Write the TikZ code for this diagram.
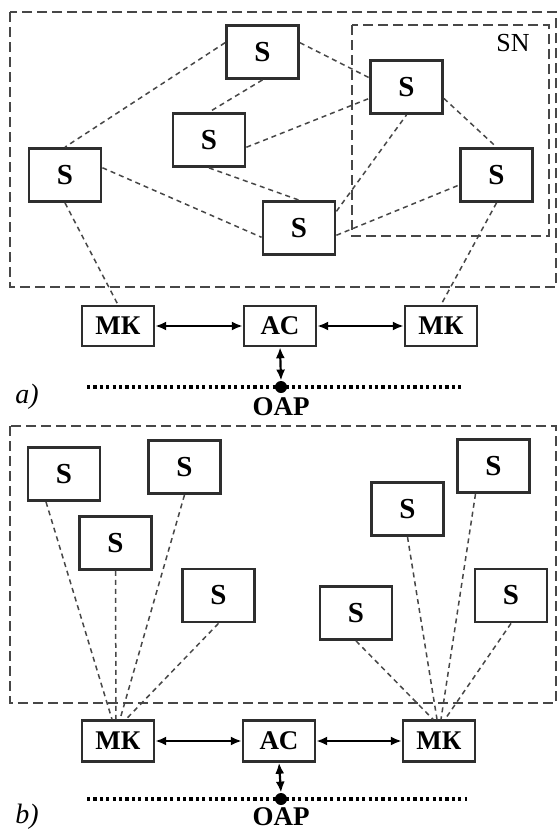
\documentclass[tikz,border=0pt]{standalone}
\usepackage{fontspec}
\setmainfont{Liberation Serif}
\usetikzlibrary{positioning,calc,arrows,arrows.meta}
\definecolor{darkgray2}{rgb}{0.18,0.18,0.18}
\definecolor{midgray}{rgb}{0.28,0.28,0.28}

\begin{document}
\begin{tikzpicture}
[x=0.5pt,y=-0.5pt,
 sensor/.style={rectangle,draw=darkgray2,line width=1.4pt,minimum width=36pt,minimum height=26.5pt,inner sep=0pt,font=\fontsize{14.5}{14.5}\selectfont\bfseries},
 unit/.style={rectangle,draw=darkgray2,line width=1.2pt,minimum width=36pt,minimum height=20pt,inner sep=0pt,font=\fontsize{13.5}{13.5}\selectfont\bfseries},
 link/.style={draw=midgray,line width=0.75pt,dash pattern=on 2.5pt off 2pt},
 frame/.style={draw=midgray,line width=0.8pt,dash pattern=on 5pt off 2.5pt},
 bus/.style={draw=black,line width=1.7pt,dash pattern=on 1.6pt off 1.6pt},
 duplex/.style={draw=black,line width=1.1pt,{Latex[length=5.5pt,width=4.5pt]}-{Latex[length=5.5pt,width=4.5pt]}},
 point/.style={circle,fill=black,inner sep=0pt,minimum size=6pt},
 caption/.style={font=\fontsize{13.5}{13.5}\selectfont\bfseries}]

\useasboundingbox (0,0) rectangle (559,830);

% a) mesh network
\draw[frame] (10,12) rectangle (556,287);
\draw[frame] (352,25) rectangle (549,236);
\node[font=\fontsize{13}{13}\selectfont] (sn) at (513,43) {SN};

\node[sensor] (sTop) at (262.5,52) {S};
\node[sensor] (sLeft) at (65,175) {S};
\node[sensor] (sMid) at (209,140) {S};
\node[sensor] (sBot) at (299,228) {S};
\node[sensor] (sUp) at (406.5,87) {S};
\node[sensor] (sRight) at (496.5,175) {S};

\draw[link] (sTop.166) -- (sLeft.north);
\draw[link] (sTop.south) -- (sMid.north);
\draw[link] (sTop.14) -- (sUp.166);
\draw[link] (sMid.-11) -- (sUp.197);
\draw[link] (sMid.south) -- (sBot.north);
\draw[link] (sLeft.11) -- (sBot.194);
\draw[link] (sBot.24) -- (sUp.south);
\draw[link] (sBot.-11) -- (sRight.195);
\draw[link] (sUp.-17) -- (sRight.north);

\node[unit] (mkA1) at (118,326) {МК};
\node[unit] (acA) at (280,326) {AC};
\node[unit] (mkA2) at (441,326) {МК};
\draw[link] (sLeft.south) -- (mkA1.north);
\draw[link] (sRight.south) -- (mkA2.north);
\draw[duplex] (mkA1.east) -- (acA.west);
\draw[duplex] (acA.east) -- (mkA2.west);

\coordinate (busA1) at (87,387);
\coordinate (busA2) at (463,387);
\draw[bus] (busA1) -- (busA2);
\node[point] (dotA) at (281,387) {};
\draw[duplex] (acA.south) -- (dotA.north);
\node[caption] (oapA) at (281,407) {OAP};
\node[font=\fontsize{14}{14}\selectfont\itshape] (capA) at (27,397) {a)};

% b) star networks
\draw[frame] (10,426) rectangle (556,703);

\node[sensor] (s1) at (64,474) {S};
\node[sensor] (s2) at (184.5,467) {S};
\node[sensor] (s3) at (115.5,543) {S};
\node[sensor] (s4) at (218.5,595.5) {S};
\node[sensor] (s5) at (356,613) {S};
\node[sensor] (s6) at (407.5,509) {S};
\node[sensor] (s7) at (493.5,466) {S};
\node[sensor] (s8) at (511,595.5) {S};

\node[unit,minimum height=20.5pt] (mkB1) at (118,741) {МК};
\node[unit,minimum height=20.5pt] (acB) at (279,741) {AC};
\node[unit,minimum height=20.5pt] (mkB2) at (439,741) {МК};

\draw[link] ([xshift=-9pt]s1.south) -- ([xshift=-3pt]mkB1.north);
\draw[link] (s3.south) -- ([xshift=-1pt]mkB1.north);
\draw[link] (s2.south) -- ([xshift=1pt]mkB1.north);
\draw[link] (s4.south) -- ([xshift=4pt]mkB1.north);
\draw[link] (s5.south) -- ([xshift=-3pt]mkB2.north);
\draw[link] (s6.south) -- ([xshift=-1pt]mkB2.north);
\draw[link] ([xshift=-9pt]s7.south) -- ([xshift=1pt]mkB2.north);
\draw[link] (s8.south) -- ([xshift=3pt]mkB2.north);

\draw[duplex] (mkB1.east) -- (acB.west);
\draw[duplex] (acB.east) -- (mkB2.west);

\coordinate (busB1) at (87,799);
\coordinate (busB2) at (467,799);
\draw[bus] (busB1) -- (busB2);
\node[point] (dotB) at (281,799) {};
\draw[duplex] (acB.south) -- (dotB.north);
\node[caption] (oapB) at (281,817) {OAP};
\node[font=\fontsize{14}{14}\selectfont\itshape] (capB) at (27,817) {b)};
\end{tikzpicture}
\end{document}
